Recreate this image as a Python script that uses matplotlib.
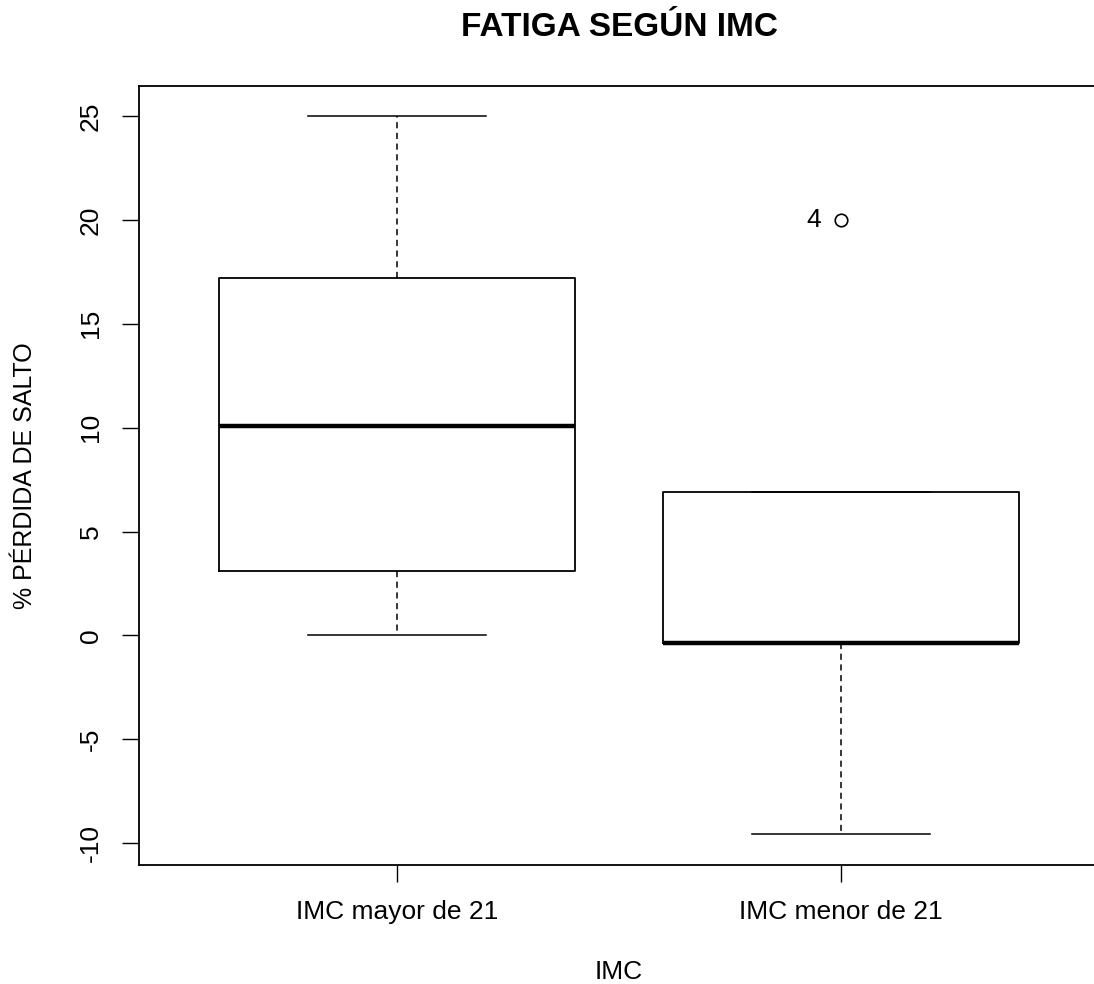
import matplotlib.pyplot as plt

plt.rcParams["font.family"] = ["Liberation Sans", "DejaVu Sans"]

groups = ["IMC mayor de 21", "IMC menor de 21"]
whislo = [0.0, -9.57]
q1 = [3.10, -0.37]
med = [10.1, -0.37]
q3 = [17.2, 6.9]
whishi = [25.0, 6.9]
outliers = [[], [20.0]]
outlier_ids = [[], ["4"]]

stats = []
for i, g in enumerate(groups):
    stats.append(dict(label=g, whislo=whislo[i], q1=q1[i], med=med[i],
                      q3=q3[i], whishi=whishi[i], fliers=outliers[i]))

fig = plt.figure(figsize=(10.94, 9.84), dpi=100)
ax = fig.add_axes([139 / 1094, 119 / 984, 960 / 1094, 779 / 984])

ax.bxp(stats, positions=[1, 2], widths=0.8, capwidths=0.4,
       boxprops=dict(color="black", lw=1.3),
       medianprops=dict(color="black", lw=3.2),
       whiskerprops=dict(color="black", lw=1.1, linestyle=(0, (4, 3))),
       capprops=dict(color="black", lw=1.1),
       flierprops=dict(marker="o", markerfacecolor="none", markeredgecolor="black",
                       markersize=9, markeredgewidth=1.2))

for i in range(len(groups)):
    for v, lab in zip(outliers[i], outlier_ids[i]):
        ax.text(i + 1 - 0.045, v, lab, ha="right", va="center", fontsize=19)

ax.set_xlim(0.42, 2.58)
ax.set_ylim(-11.05, 26.45)
ax.set_yticks([-10, -5, 0, 5, 10, 15, 20, 25])
ax.set_yticklabels(["-10", "-5", "0", "5", "10", "15", "20", "25"])
ax.set_xticks([1, 2])
ax.set_xticklabels(groups)
ax.tick_params(axis="both", length=12, width=1, labelsize=19)
ax.tick_params(axis="x", pad=13)
ax.tick_params(axis="y", pad=14)
for lab in ax.get_yticklabels():
    lab.set_rotation(90)
    lab.set_va("center")
for s in ax.spines.values():
    s.set_linewidth(1.3)

ax.set_xlabel("IMC", fontsize=19, va="center")
ax.xaxis.set_label_coords(0.5, (865 - 972) / 779)
ax.set_ylabel("% PÉRDIDA DE SALTO", fontsize=18, va="center")
ax.yaxis.set_label_coords((25 - 139) / 960, 0.5)
fig.text(619 / 1094, 1 - 27 / 984, "FATIGA SEGÚN IMC", ha="center", va="center",
         fontsize=24, fontweight="bold")

fig.savefig("out.png", dpi=100)
